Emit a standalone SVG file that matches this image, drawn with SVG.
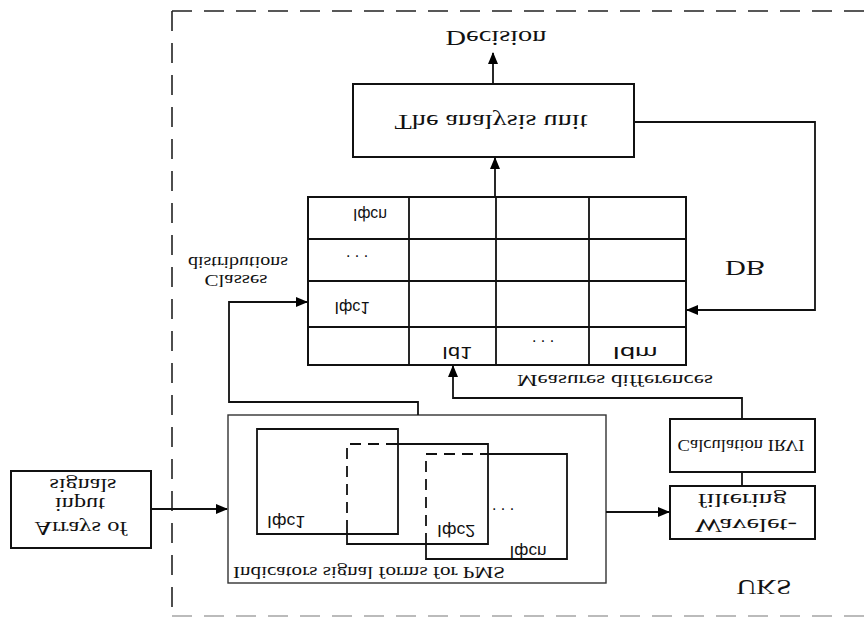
<svg xmlns="http://www.w3.org/2000/svg" width="867" height="618" viewBox="0 0 867 618">
<defs>
<marker id="ah" markerWidth="12" markerHeight="10" refX="11" refY="5" orient="auto" markerUnits="userSpaceOnUse">
<path d="M0,0 L12,5 L0,10 Z" fill="#000"/>
</marker>
<style>
.box{fill:#fff;stroke:#111;stroke-width:2}
.thin{fill:none;stroke:#333;stroke-width:1.4}
.ln{fill:none;stroke:#111;stroke-width:1.8}
.dash{fill:none;stroke:#111;stroke-width:1.8;stroke-dasharray:11,7}
.serif{font-family:"Liberation Serif","Times New Roman",serif;fill:#111;text-anchor:middle}
.sans{font-family:"Liberation Sans",Arial,sans-serif;fill:#111;text-anchor:middle}
</style>
</defs>
<rect width="867" height="618" fill="#fff"/>

<g id="boundary">
<line x1="172" y1="11" x2="867" y2="11" stroke="#222" stroke-width="1.6" stroke-dasharray="20,12"/>
<line x1="172" y1="11" x2="172" y2="618" stroke="#222" stroke-width="1.6" stroke-dasharray="20,12"/>
<line x1="172" y1="616" x2="867" y2="616" stroke="#bbb" stroke-width="2" stroke-dasharray="20,12"/>
<text class="serif" font-size="22" transform="translate(764,587) scale(1,-1)" y="7.5" textLength="55" lengthAdjust="spacingAndGlyphs">UKS</text>
</g>

<g id="decision">
<text class="serif" font-size="21" transform="translate(496,38) scale(1,-1)" y="7" textLength="101" lengthAdjust="spacingAndGlyphs">Decision</text>
</g>

<g id="analysis">
<rect class="box" x="353" y="84" width="281" height="73"/>
<text class="serif" font-size="21" transform="translate(491,122) scale(1,-1)" y="7" textLength="193" lengthAdjust="spacingAndGlyphs">The analysis unit</text>
</g>

<g id="db">
<rect class="box" x="308" y="197" width="378" height="168"/>
<path class="ln" d="M409,197V365 M496,197V365 M589,197V365 M308,239H686 M308,281H686 M308,327H686"/>
<text class="sans" font-size="16" transform="translate(370,214) scale(1,-1)" y="5.5" textLength="34" lengthAdjust="spacingAndGlyphs">Iфcn</text>
<text class="sans" font-size="16" x="357" y="257">. . .</text>
<text class="sans" font-size="16" transform="translate(352,307) scale(1,-1)" y="5.5" textLength="35" lengthAdjust="spacingAndGlyphs">Iфc1</text>
<text class="sans" font-size="16" transform="translate(457,352) scale(1,-1)" y="5.5" textLength="30" lengthAdjust="spacingAndGlyphs">Id1</text>
<text class="sans" font-size="16" x="543" y="342">. . .</text>
<text class="sans" font-size="16" transform="translate(635,352) scale(1,-1)" y="5.5" textLength="45" lengthAdjust="spacingAndGlyphs">Idm</text>
<text class="serif" font-size="21" transform="translate(745,268) scale(1,-1)" y="7" textLength="40" lengthAdjust="spacingAndGlyphs">DB</text>
</g>

<g id="classes-label">
<text class="serif" font-size="16" transform="translate(238,262) scale(1,-1)" y="5.5" textLength="100" lengthAdjust="spacingAndGlyphs">distributions</text>
<text class="serif" font-size="16" transform="translate(236,280) scale(1,-1)" y="5.5" textLength="63" lengthAdjust="spacingAndGlyphs">Classes</text>
</g>

<g id="measures-label">
<text class="serif" font-size="17" transform="translate(615,381) scale(1,-1)" y="6" textLength="196" lengthAdjust="spacingAndGlyphs">Measures differences</text>
</g>

<g id="arrays">
<rect class="box" x="11" y="471" width="140" height="77"/>
<text class="serif" font-size="18" transform="translate(83,485) scale(1,-1)" y="6" textLength="67" lengthAdjust="spacingAndGlyphs">signals</text>
<text class="serif" font-size="18" transform="translate(80,504) scale(1,-1)" y="6" textLength="50" lengthAdjust="spacingAndGlyphs">input</text>
<text class="serif" font-size="18" transform="translate(81,528) scale(1,-1)" y="6" textLength="93" lengthAdjust="spacingAndGlyphs">Arrays of</text>
</g>

<g id="pms">
<rect class="thin" x="228" y="415" width="378" height="168"/>
<path class="ln" d="M257,429H398V534H257Z"/>
<path class="ln" d="M388,444H488V544H347V531"/>
<path class="dash" d="M347,531V444H388"/>
<path class="ln" d="M488,454H567V559H426V544"/>
<path class="dash" d="M426,544V454H488"/>
<text class="sans" font-size="16" transform="translate(286,521) scale(1,-1)" y="5.5" textLength="38" lengthAdjust="spacingAndGlyphs">Iфc1</text>
<text class="sans" font-size="16" transform="translate(456,530) scale(1,-1)" y="5.5" textLength="38" lengthAdjust="spacingAndGlyphs">Iфc2</text>
<text class="sans" font-size="16" transform="translate(528,551) scale(1,-1)" y="5.5" textLength="37" lengthAdjust="spacingAndGlyphs">Iфcn</text>
<text class="sans" font-size="16" x="503" y="510">. . .</text>
<text class="serif" font-size="17" transform="translate(369,573) scale(1,-1)" y="6" textLength="272" lengthAdjust="spacingAndGlyphs">Indicators signal forms for PMS</text>
</g>

<g id="calculation">
<rect class="box" x="670" y="419" width="145" height="53"/>
<text class="serif" font-size="16" transform="translate(741,445) scale(1,-1)" y="5.5" textLength="127" lengthAdjust="spacingAndGlyphs">Calculation IRVI</text>
</g>

<g id="wavelet">
<rect class="box" x="670" y="486" width="145" height="53"/>
<text class="serif" font-size="18" transform="translate(742,500) scale(1,-1)" y="6" textLength="89" lengthAdjust="spacingAndGlyphs">filtering</text>
<text class="serif" font-size="18" transform="translate(746,525) scale(1,-1)" y="6" textLength="102" lengthAdjust="spacingAndGlyphs">Wavelet-</text>
</g>

<g id="connectors">
<path class="ln" d="M493,84V53" marker-end="url(#ah)"/>
<path class="ln" d="M495,197V158" marker-end="url(#ah)"/>
<path class="ln" d="M634,122H815V310H687" marker-end="url(#ah)"/>
<path class="ln" d="M418,415V402H229V302H307" marker-end="url(#ah)"/>
<path class="ln" d="M742,419V398H453V366" marker-end="url(#ah)"/>
<path class="ln" d="M742,472V486"/>
<path class="ln" d="M151,509H227" marker-end="url(#ah)"/>
<path class="ln" d="M606,512H669" marker-end="url(#ah)"/>
</g>
</svg>
